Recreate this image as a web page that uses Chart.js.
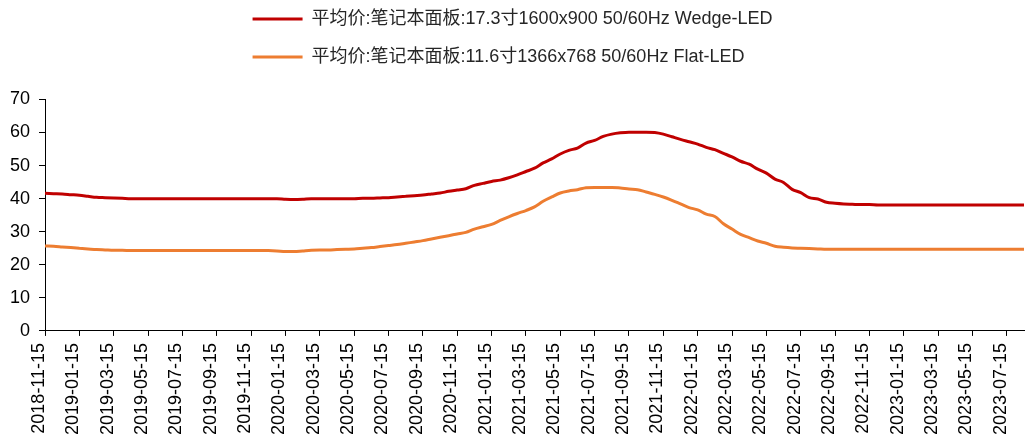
<!DOCTYPE html>
<html>
<head>
<meta charset="utf-8">
<script src="https://cdn.jsdelivr.net/npm/chart.js@4.4.1/dist/chart.umd.min.js"></script>
<style>
  html, body { margin: 0; padding: 0; background: #ffffff; }
  #wrap { width: 1031px; height: 441px; position: relative; }
</style>
</head>
<body>
<div id="wrap"><canvas id="c"></canvas></div>
<script>
// Semi-monthly quote dates: the 15th and the last day of each month.
function halfMonthDates(year, month, count) {
  const out = [];
  let y = year, m = month, half = 0;
  const pad = n => String(n).padStart(2, '0');
  for (let i = 0; i < count; i++) {
    const day = half === 0 ? 15 : new Date(y, m, 0).getDate();
    out.push(`${y}-${pad(m)}-${pad(day)}`);
    if (half === 1) { m++; if (m > 12) { m = 1; y++; } }
    half = 1 - half;
  }
  return out;
}

const dates = halfMonthDates(2018, 11, 115);

const seriesNames = [
  '平均价:笔记本面板:17.3寸1600x900 50/60Hz Wedge-LED',
  '平均价:笔记本面板:11.6寸1366x768 50/60Hz Flat-LED'
];

// 17.3" 1600x900 Wedge-LED, USD
const wedge173 = [
  41.6, 41.5, 41.4, 41.2, 41.0, 40.7, 40.4, 40.3, 40.2, 40.1,
  40.0, 40.0, 40.0, 40.0, 40.0, 40.0, 40.0, 40.0, 40.0, 40.0,
  40.0, 40.0, 40.0, 40.0, 40.0, 40.0, 40.0, 40.0, 39.8, 39.7,
  39.8, 40.0, 40.0, 40.0, 40.0, 40.0, 40.0, 40.1, 40.1, 40.2,
  40.3, 40.5, 40.7, 40.9, 41.1, 41.4, 41.7, 42.2, 42.6, 43.0,
  44.0, 44.6, 45.2, 45.6, 46.3, 47.2, 48.2, 49.2, 50.8, 52.0,
  53.5, 54.6, 55.3, 56.8, 57.6, 58.8, 59.5, 59.9, 60.1, 60.1,
  60.1, 60.0, 59.5, 58.7, 57.9, 57.2, 56.5, 55.5, 54.8, 53.7,
  52.6, 51.3, 50.4, 48.9, 47.7, 45.9, 44.9, 42.8, 41.8, 40.3,
  39.9, 38.9, 38.6, 38.4, 38.3, 38.2, 38.2, 38.1, 38.1, 38.1,
  38.1, 38.1, 38.1, 38.1, 38.1, 38.1, 38.1, 38.1, 38.1, 38.1,
  38.1, 38.1, 38.1, 38.1, 38.1
];

// 11.6" 1366x768 Flat-LED, USD
const flat116 = [
  25.7, 25.6, 25.4, 25.2, 25.0, 24.8, 24.6, 24.5, 24.4, 24.4,
  24.3, 24.3, 24.3, 24.3, 24.3, 24.3, 24.3, 24.3, 24.3, 24.3,
  24.3, 24.3, 24.3, 24.3, 24.3, 24.3, 24.3, 24.2, 24.0, 24.0,
  24.2, 24.4, 24.5, 24.5, 24.6, 24.7, 24.8, 25.0, 25.2, 25.5,
  25.8, 26.1, 26.5, 26.9, 27.3, 27.8, 28.3, 28.8, 29.3, 29.8,
  30.8, 31.5, 32.2, 33.4, 34.5, 35.5, 36.4, 37.5, 39.2, 40.5,
  41.7, 42.3, 42.7, 43.3, 43.4, 43.4, 43.4, 43.2, 42.9, 42.7,
  42.0, 41.3, 40.5, 39.5, 38.4, 37.3, 36.6, 35.3, 34.6, 32.4,
  30.8, 29.2, 28.2, 27.2, 26.5, 25.6, 25.3, 25.1, 25.0, 24.9,
  24.8, 24.7, 24.7, 24.7, 24.7, 24.7, 24.7, 24.7, 24.7, 24.7,
  24.7, 24.7, 24.7, 24.7, 24.7, 24.7, 24.7, 24.7, 24.7, 24.7,
  24.7, 24.7, 24.7, 24.7, 24.7
];

const seriesColors = ['#C00000', '#ED7D31'];

const yMin = 0, yMax = 70, yStep = 10;
const labelEvery = 4; // one x label every two months

const FONT = '"Liberation Sans", Arial, "Noto Sans CJK SC", sans-serif';

// Start every legend row at the same x so the two entries line up.
const legendRowAlign = {
  id: 'legendRowAlign',
  afterLayout(chart) {
    const lg = chart.legend;
    if (lg && Array.isArray(lg.lineWidths) && lg.lineWidths.length > 1) {
      const w = Math.max(...lg.lineWidths);
      lg.lineWidths = lg.lineWidths.map(() => w);
    }
  }
};

const whiteBg = {
  id: 'whiteBg',
  beforeDraw(chart) {
    const { ctx, width, height } = chart;
    ctx.save();
    ctx.fillStyle = '#ffffff';
    ctx.fillRect(0, 0, width, height);
    ctx.restore();
  }
};

new Chart(document.getElementById('c'), {
  type: 'line',
  data: {
    labels: dates,
    datasets: [
      {
        label: seriesNames[0],
        data: wedge173,
        borderColor: seriesColors[0],
        backgroundColor: seriesColors[0],
        borderWidth: 3,
        pointRadius: 0,
        tension: 0.3,
        cubicInterpolationMode: 'monotone'
      },
      {
        label: seriesNames[1],
        data: flat116,
        borderColor: seriesColors[1],
        backgroundColor: seriesColors[1],
        borderWidth: 3,
        pointRadius: 0,
        tension: 0.3,
        cubicInterpolationMode: 'monotone'
      }
    ]
  },
  options: {
    responsive: true,
    maintainAspectRatio: false,
    animation: false,
    events: [],
    layout: { padding: { top: -10, left: 1, right: 7, bottom: -1 } },
    plugins: {
      legend: {
        display: true,
        position: 'top',
        align: 'center',
        labels: {
          usePointStyle: true,
          pointStyle: 'line',
          pointStyleWidth: 50,
          boxHeight: 18,
          padding: 20,
          color: '#262626',
          font: { family: FONT, size: 18 }
        }
      },
      title: {
        display: true,
        text: '',
        weight: 100,
        position: 'top',
        padding: { top: 0, bottom: 9 },
        font: { size: 12 }
      },
      tooltip: { enabled: false }
    },
    scales: {
      x: {
        type: 'category',
        offset: false,
        border: { display: true, color: '#000000', width: 1 },
        grid: {
          display: true,
          drawOnChartArea: false,
          drawTicks: true,
          tickLength: 5,
          tickColor: ctx => (ctx.index % labelEvery === 0 ? '#000000' : 'rgba(0,0,0,0)')
        },
        ticks: {
          autoSkip: false,
          minRotation: 90,
          maxRotation: 90,
          padding: 7,
          labelOffset: -6,
          color: '#000000',
          font: { family: FONT, size: 18 },
          callback: (value, index) => (index % labelEvery === 0 ? dates[index] : '')
        },
        // the rotated labels need no side margin; let the plot run to the edges
        afterFit: scale => {
          scale.paddingLeft = 0;
          scale.paddingRight = 0;
        }
      },
      y: {
        min: yMin,
        max: yMax,
        border: { display: true, color: '#000000', width: 1 },
        grid: {
          display: true,
          drawOnChartArea: false,
          drawTicks: true,
          tickLength: 6,
          tickColor: '#000000'
        },
        ticks: {
          stepSize: yStep,
          padding: 9,
          color: '#000000',
          font: { family: FONT, size: 18 }
        }
      }
    }
  },
  plugins: [whiteBg, legendRowAlign]
});
</script>
</body>
</html>
